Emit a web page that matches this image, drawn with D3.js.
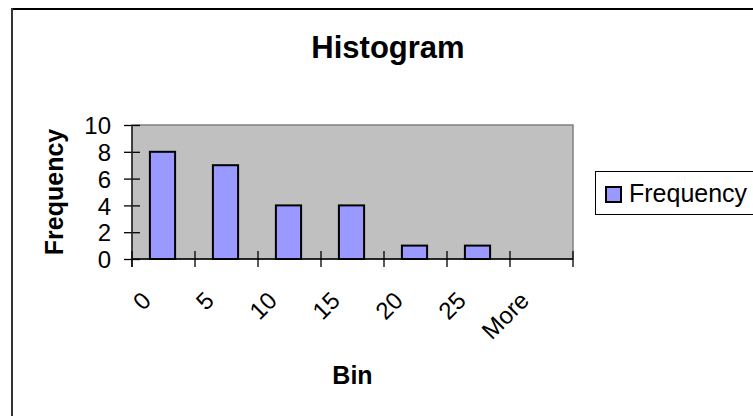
<!DOCTYPE html>
<html>
<head>
<meta charset="utf-8">
<script src="https://cdn.jsdelivr.net/npm/d3@7/dist/d3.min.js"></script>
<style>
  html, body { margin: 0; padding: 0; background: #fff; }
  svg { display: block; font-family: "Liberation Sans", Arial, sans-serif; }
</style>
</head>
<body>
<svg id="chart" width="753" height="416"></svg>
<script>
// Histogram bins and their counts
const bins = ["0", "5", "10", "15", "20", "25", "More"];
const frequency = [8, 7, 4, 4, 1, 1, 0];
const yTicks = [0, 2, 4, 6, 8, 10];
const seriesName = "Frequency";

const svg = d3.select("#chart");

// Plot-area geometry
const plot = { left: 132, right: 573, top: 125, bottom: 259 };

const xCat = d3.scaleBand().domain(bins).range([plot.left, plot.right]);
const barWidth = xCat.bandwidth() / 2.5;

const y = d3.scaleLinear().domain([0, 10]).range([plot.bottom, plot.top]);

// Outer chart frame (only top and left edges fall inside the view)
svg.append("line").attr("x1", 12).attr("x2", 753).attr("y1", 9).attr("y2", 9)
  .attr("stroke", "#000").attr("stroke-width", 2);
svg.append("line").attr("x1", 12).attr("x2", 12).attr("y1", 8).attr("y2", 416)
  .attr("stroke", "#333").attr("stroke-width", 2);

// Title
svg.append("text")
  .attr("x", 388).attr("y", 58)
  .attr("text-anchor", "middle")
  .attr("font-size", 31).attr("font-weight", "bold")
  .text("Histogram");

// Plot background and border
svg.append("rect")
  .attr("x", plot.left).attr("y", plot.top)
  .attr("width", plot.right - plot.left).attr("height", plot.bottom - plot.top)
  .attr("fill", "#c0c0c0").attr("stroke", "#808080").attr("stroke-width", 1.5);

// Bars
svg.selectAll("rect.bar")
  .data(bins.map((b, i) => ({ bin: b, value: frequency[i] })))
  .join("rect")
  .attr("class", "bar")
  .attr("x", d => xCat(d.bin) + (xCat.bandwidth() - barWidth) / 2 - 1)
  .attr("y", d => y(d.value))
  .attr("width", barWidth)
  .attr("height", d => y(0) - y(d.value))
  .attr("fill", "#9999ff")
  .attr("stroke", "#000").attr("stroke-width", 2)
  .attr("display", d => d.value > 0 ? null : "none");

// Y axis with crossing tick marks
const yAxis = d3.axisLeft(y).tickValues(yTicks).tickSize(0).tickPadding(0).tickFormat(d3.format("d"));
const gy = svg.append("g").attr("transform", `translate(${plot.left},0)`).call(yAxis);
gy.select(".domain").remove();
gy.selectAll(".tick text")
  .attr("x", -21).attr("dy", "0.36em")
  .attr("font-size", 24).attr("font-family", "Liberation Sans, Arial, sans-serif")
  .attr("fill", "#000");
gy.selectAll(".tick").append("line")
  .attr("x1", -8).attr("x2", 8).attr("stroke", "#000").attr("stroke-width", 1.3);
svg.append("line")
  .attr("x1", plot.left).attr("x2", plot.left)
  .attr("y1", plot.top).attr("y2", plot.bottom + 8)
  .attr("stroke", "#222").attr("stroke-width", 1.5);

// X axis line and category-boundary tick marks
svg.append("line")
  .attr("x1", plot.left).attr("x2", plot.right)
  .attr("y1", plot.bottom).attr("y2", plot.bottom)
  .attr("stroke", "#000").attr("stroke-width", 1.5);
const boundaries = bins.map(b => xCat(b)).concat([plot.right]);
svg.selectAll("line.xtick")
  .data(boundaries)
  .join("line")
  .attr("class", "xtick")
  .attr("x1", d => d).attr("x2", d => d)
  .attr("y1", plot.bottom - 8).attr("y2", plot.bottom + 8)
  .attr("stroke", "#000").attr("stroke-width", 1.3);

// Rotated bin labels
svg.selectAll("text.xlabel")
  .data(bins)
  .join("text")
  .attr("class", "xlabel")
  .attr("text-anchor", "end")
  .attr("font-size", 24)
  .attr("transform", d => `translate(${xCat(d) + xCat.bandwidth() / 2 - 11},${plot.bottom + 43}) rotate(-45)`)
  .text(d => d);

// Axis titles
svg.append("text")
  .attr("transform", `translate(63,${(plot.top + plot.bottom) / 2}) rotate(-90)`)
  .attr("text-anchor", "middle")
  .attr("font-size", 25).attr("font-weight", "bold")
  .text("Frequency");

svg.append("text")
  .attr("x", (plot.left + plot.right) / 2).attr("y", 384)
  .attr("text-anchor", "middle")
  .attr("font-size", 25).attr("font-weight", "bold")
  .text("Bin");

// Legend
const lg = svg.append("g");
lg.append("rect")
  .attr("x", 595.5).attr("y", 171.5).attr("width", 170).attr("height", 43)
  .attr("fill", "#fff").attr("stroke", "#000").attr("stroke-width", 1);
lg.append("rect")
  .attr("x", 606).attr("y", 187).attr("width", 15).attr("height", 15)
  .attr("fill", "#9999ff").attr("stroke", "#000").attr("stroke-width", 2);
lg.append("text")
  .attr("x", 629).attr("y", 202)
  .attr("font-size", 25)
  .text(seriesName);
</script>
</body>
</html>
